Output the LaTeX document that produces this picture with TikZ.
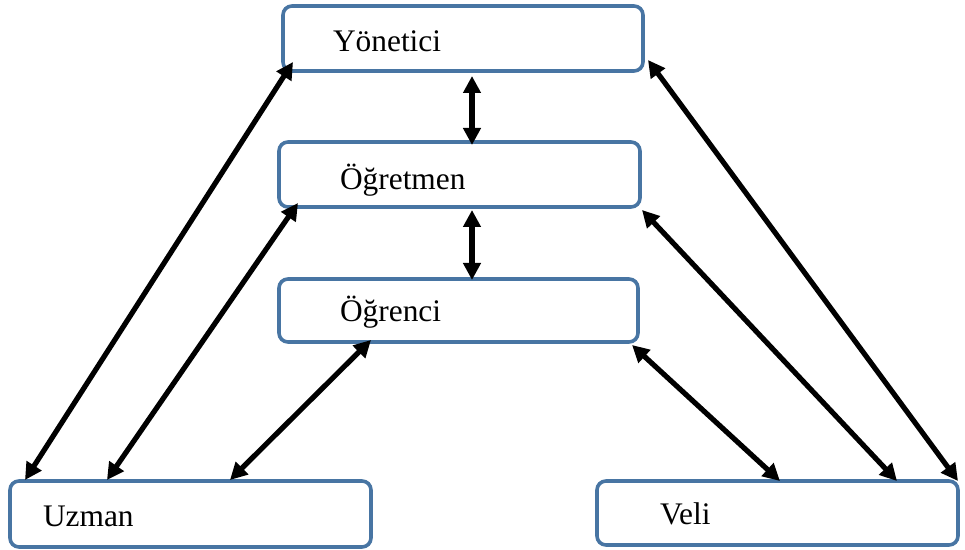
\documentclass[tikz,border=0pt]{standalone}
\usepackage{fontspec}
\setmainfont{Liberation Serif}
\usetikzlibrary{arrows.meta}
\definecolor{boxblue}{RGB}{72,117,163}
\begin{document}
\begin{tikzpicture}[x=0.5pt,y=-0.5pt,
  box/.style={draw=boxblue,line width=1.8pt,rounded corners=4.5pt,fill=white,
    inner sep=0pt,outer sep=0pt},
  lbl/.style={anchor=base west,inner sep=0pt,outer sep=0pt,
    font=\fontsize{15.7}{18}\selectfont},
  link/.style={line width=2.6pt,{Triangle[length=8.5pt,width=8.5pt]}-{Triangle[length=8.5pt,width=8.5pt]}}]
\useasboundingbox (0,0) rectangle (965,550);
% boxes
\node[box,minimum width=180pt,minimum height=32.5pt] (yon) at (463,38.5) {};
\node[box,minimum width=180.5pt,minimum height=32.5pt] (ogt) at (459.5,174.5) {};
\node[box,minimum width=179.5pt,minimum height=31.5pt] (ogc) at (458.5,310.5) {};
\node[box,minimum width=180.5pt,minimum height=33pt] (uzm) at (190.5,514) {};
\node[box,minimum width=180.5pt,minimum height=32pt] (vel) at (777.5,513) {};
% labels
\node[lbl] (tyon) at (333,52) {Yönetici};
\node[lbl] (togt) at (340,190) {Öğretmen};
\node[lbl] (togc) at (340,322) {Öğrenci};
\node[lbl] (tuzm) at (43,527) {Uzman};
\node[lbl] (tvel) at (660,525) {Veli};
% connector end points
\coordinate (yb) at (472,76);
\coordinate (gt) at (472,145);
\coordinate (gb) at (472,210);
\coordinate (ct) at (472,280);
\coordinate (yl) at (293,62);
\coordinate (u1) at (25,480);
\coordinate (gl) at (298,203);
\coordinate (u2) at (107,480);
\coordinate (cl) at (371,340);
\coordinate (u3) at (230,480);
\coordinate (yr) at (648,60);
\coordinate (v3) at (958,481);
\coordinate (gr) at (642,210);
\coordinate (v2) at (897,481);
\coordinate (cr) at (632,345);
\coordinate (v1) at (780,481);
% connectors
\draw[link] (yb) -- (gt);
\draw[link] (gb) -- (ct);
\draw[link] (yl) -- (u1);
\draw[link] (gl) -- (u2);
\draw[link] (cl) -- (u3);
\draw[link] (yr) -- (v3);
\draw[link] (gr) -- (v2);
\draw[link] (cr) -- (v1);
\end{tikzpicture}
\end{document}
